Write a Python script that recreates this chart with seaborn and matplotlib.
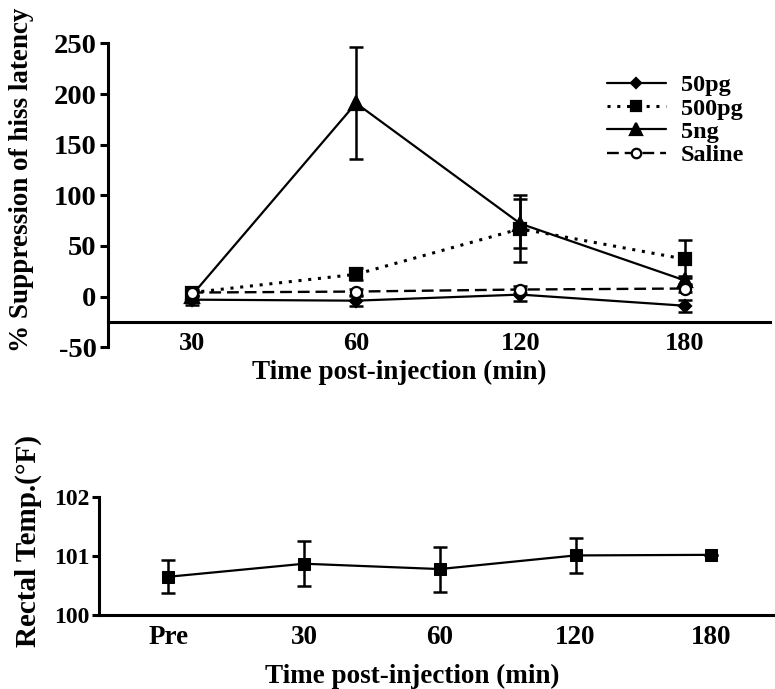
import numpy as np
import pandas as pd
import matplotlib
matplotlib.use("Agg")
import matplotlib.pyplot as plt
import seaborn as sns

# ---------------- data ----------------
times = ["30", "60", "120", "180"]
s50pg = [-3, -4, 2, -9]
e50pg = [5, 5, 6, 6]
s500pg = [4, 22, 67, 37]
e500pg = [3, 6, 33, 19]
s5ng = [1, 191, 72, 16]
e5ng = [4, 55, 24, 4]
saline = [4, 5, 7, 8]
esaline = [3, 3, 3, 3]

temp_times = ["Pre", "30", "60", "120", "180"]
temp = [100.65, 100.87, 100.78, 101.01, 101.02]
etemp = [0.28, 0.38, 0.38, 0.30, 0.0]

sns.set_theme(style="white")
plt.rcParams["font.family"] = ["Liberation Serif", "DejaVu Serif"]
plt.rcParams["font.weight"] = "bold"
plt.rcParams["axes.labelweight"] = "bold"
plt.rcParams["axes.unicode_minus"] = False
plt.rcParams["text.color"] = "black"
plt.rcParams["axes.labelcolor"] = "black"
plt.rcParams["xtick.color"] = "black"
plt.rcParams["ytick.color"] = "black"

fig = plt.figure(figsize=(7.75, 6.89), dpi=100)
ax1 = fig.add_axes([0.139, 0.496, 0.855, 0.441])
ax2 = fig.add_axes([0.128, 0.107, 0.872, 0.172])

pos = np.arange(len(times))
series = [
    ("50pg", s50pg, e50pg, "-", 1.6, "D", 6, "black"),
    ("500pg", s500pg, e500pg, (0, (1.0, 2.2)), 2.2, "s", 8, "black"),
    ("5ng", s5ng, e5ng, "-", 1.6, "^", 10, "black"),
    ("Saline", saline, esaline, (0, (5, 2.5)), 1.7, "o", 8, "white"),
]
rows = []
for name, vals, errs, *_ in series:
    for t, p, v, e in zip(times, pos, vals, errs):
        rows.append(dict(group=name, time=t, pos=p, val=v, err=e))
df = pd.DataFrame(rows)

for name, vals, errs, ls, lw, mk, ms, fc in series:
    d = df[df.group == name]
    ax1.errorbar(d["pos"], d["val"], yerr=d["err"], fmt="none", ecolor="black",
                 elinewidth=1.8, capsize=5, capthick=1.8, zorder=2)
    sns.lineplot(data=d, x="pos", y="val", ax=ax1, color="black", linestyle=ls,
                 linewidth=lw, marker=mk, markersize=ms, markerfacecolor=fc,
                 markeredgecolor="black", markeredgewidth=1.6, label=name,
                 zorder=3)

ax1.set_xlim(-0.51, 3.52)
ax1.set_ylim(-50, 250)
ax1.set_yticks([-50, 0, 50, 100, 150, 200, 250])
ax1.set_xticks(pos)
ax1.set_xticklabels(times)
ax1.spines["top"].set_visible(False)
ax1.spines["right"].set_visible(False)
ax1.spines["bottom"].set_position(("data", -25))
for s in ["left", "bottom"]:
    ax1.spines[s].set_linewidth(2.2)
    ax1.spines[s].set_color("black")
ax1.tick_params(axis="y", which="both", left=True, length=6, width=2.2,
                labelsize=20.5, pad=2)
ax1.tick_params(axis="x", length=0, labelsize=19, pad=7)
for lab in ax1.get_xticklabels() + ax1.get_yticklabels():
    lab.set_fontweight("bold")
ax1.set_xlabel("Time post-injection (min)", fontsize=19.5, fontweight="bold")
ax1.set_ylabel("% Suppression of hiss latency", fontsize=19.5,
               fontweight="bold")
ax1.yaxis.set_label_coords(-0.112, 0.55)
ax1.xaxis.set_label_coords(0.44, -0.043)

leg = ax1.legend(loc="upper right", bbox_to_anchor=(0.975, 0.93),
                 frameon=False, fontsize=17.5, handlelength=2.4,
                 handletextpad=0.62, labelspacing=0.05, borderaxespad=0,
                 markerscale=0.85)
for t in leg.get_texts():
    t.set_fontweight("bold")

# ---------------- bottom panel ----------------
tpos = np.arange(len(temp_times))
dt = pd.DataFrame(dict(time=temp_times, pos=tpos, val=temp, err=etemp))
ax2.errorbar(dt["pos"], dt["val"], yerr=dt["err"], fmt="none", ecolor="black",
             elinewidth=1.8, capsize=5, capthick=1.8, zorder=2)
sns.lineplot(data=dt, x="pos", y="val", ax=ax2, color="black", linewidth=1.6,
             marker="s", markersize=9, markerfacecolor="black",
             markeredgecolor="black", zorder=3)
ax2.set_xlim(-0.51, 4.47)
ax2.set_ylim(100, 102)
ax2.set_yticks([100, 101, 102])
ax2.set_xticks(tpos)
ax2.set_xticklabels(temp_times)
ax2.spines["top"].set_visible(False)
ax2.spines["right"].set_visible(False)
for s in ["left", "bottom"]:
    ax2.spines[s].set_linewidth(2.2)
    ax2.spines[s].set_color("black")
ax2.tick_params(axis="y", left=True, length=5, width=2.2, labelsize=17,
                pad=2)
ax2.tick_params(axis="x", length=0, labelsize=19.5, pad=7)
for lab in ax2.get_xticklabels() + ax2.get_yticklabels():
    lab.set_fontweight("bold")
ax2.set_xlabel("Time post-injection (min)", fontsize=19.5, fontweight="bold")
ax2.set_ylabel("Rectal Temp.(°F)", fontsize=21, fontweight="bold")
ax2.yaxis.set_label_coords(-0.084, 0.627)
ax2.xaxis.set_label_coords(0.463, -0.41)

fig.savefig("out.png", dpi=100)
